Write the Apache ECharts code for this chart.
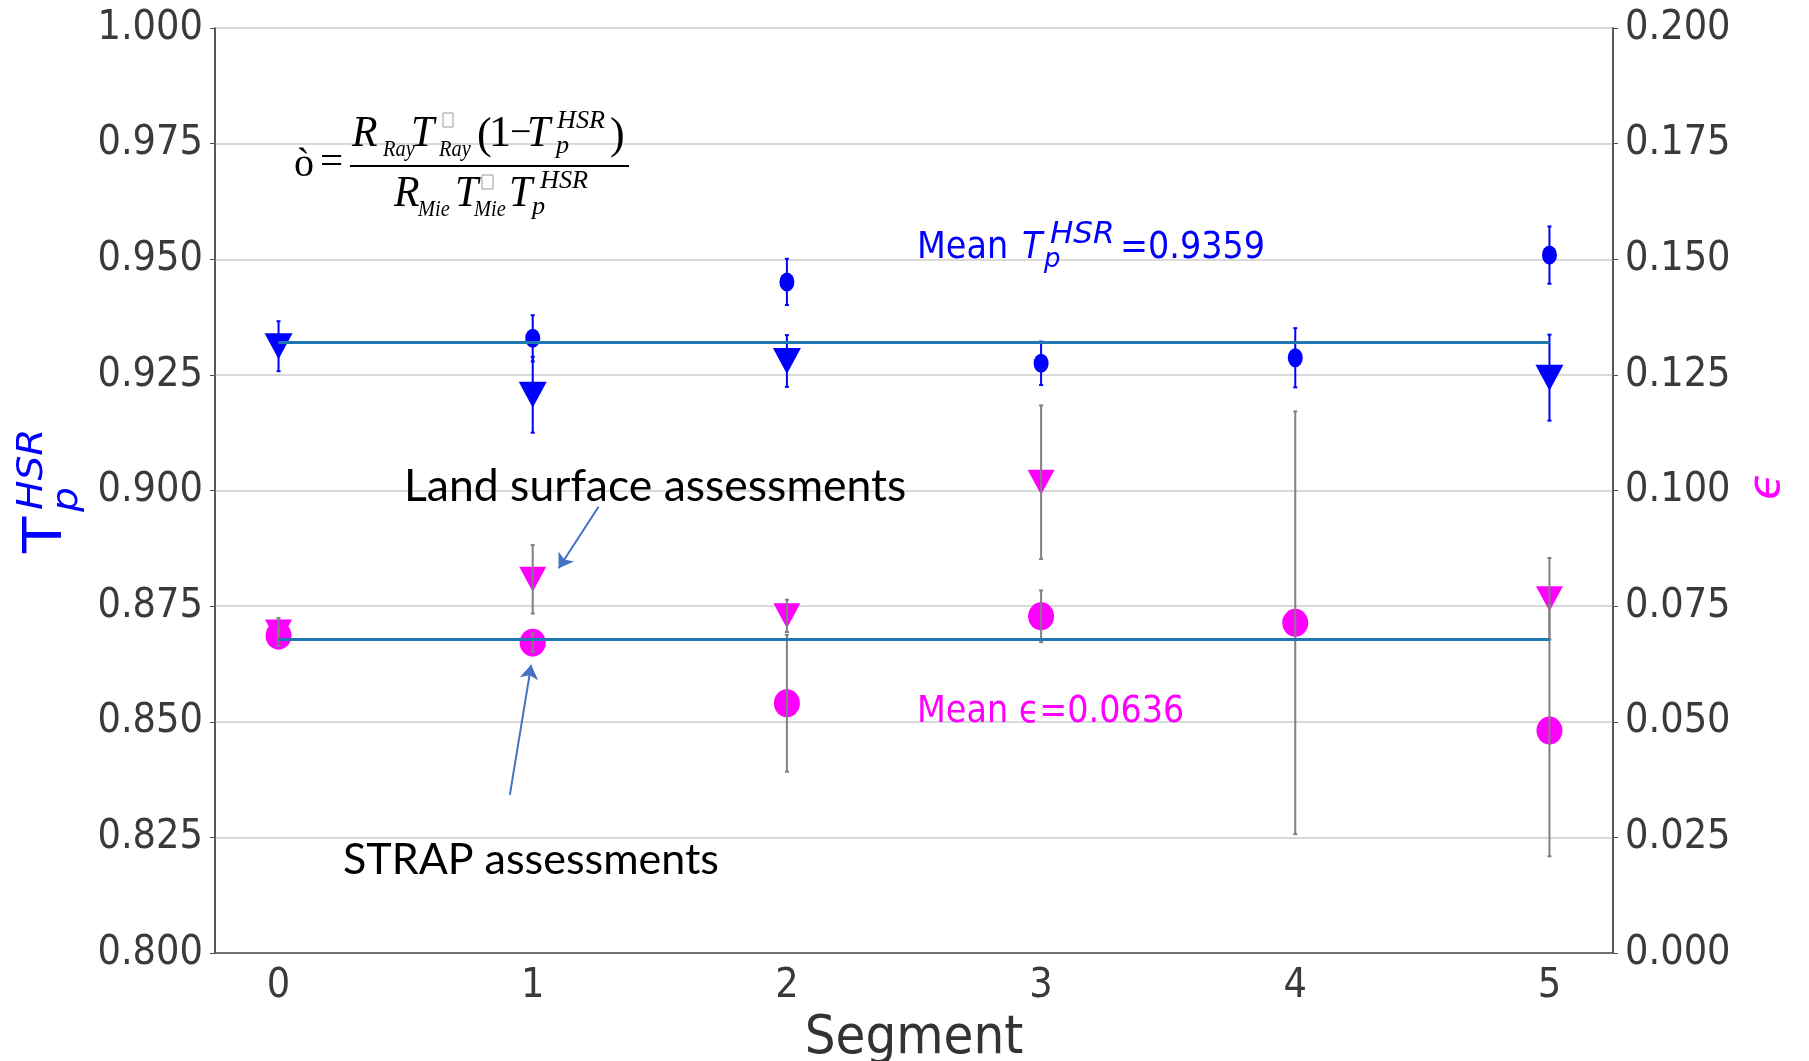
<!DOCTYPE html>
<html>
<head>
<meta charset="utf-8">
<script src="https://cdn.jsdelivr.net/npm/echarts@6/dist/echarts.min.js"></script>
<style>
  html, body { margin: 0; padding: 0; background: #fff; }
  #chart { width: 1809px; height: 1061px; }
</style>
</head>
<body>
<div id="chart"></div>
<script>
// segment positions on the x axis
const segments = [0, 1, 2, 3, 4, 5];

// T_p^HSR (left axis) - circles = STRAP, triangles = land surface
const tCircle = [null, 0.9329, 0.9451, 0.9275, 0.9287, 0.9509];
const tCircleErr = [null, 0.0050, 0.0050, 0.0047, 0.0064, 0.0062];
const tTri = [0.9312, 0.9207, 0.9280, null, null, 0.9244];
const tTriErr = [0.0054, 0.0082, 0.0056, null, null, 0.0093];

// epsilon (right axis)
const eCircle = [0.0686, 0.0671, 0.0540, 0.0728, 0.0714, 0.0481];
const eCircleErr = [0.0010, 0.0020, 0.0148, 0.0056, 0.0457, 0.0272];
const eTri = [0.0694, 0.0808, 0.0729, 0.1018, null, 0.0766];
const eTriErr = [0.0030, 0.0074, 0.0035, 0.0166, null, 0.0088];

// horizontal mean lines as drawn
const meanT = 0.932;
const meanEps = 0.0678;

// annotation arrows, in (segment, epsilon) coordinates
const arrowLand = [[1.259, 0.0965], [1.102, 0.0832]];
const arrowStrap = [[0.910, 0.0342], [0.994, 0.0623]];

const BLUE = '#0000ff';
const MAGENTA = '#ff00ff';
const LABEL_FONT = "'DejaVu Sans Condensed', 'Liberation Sans Narrow', 'DejaVu Sans', sans-serif";

const chart = echarts.init(document.getElementById('chart'));

const pts = (ys) => segments.map((x, i) => ys[i] == null ? null : [x, ys[i]]).filter(Boolean);
const errPts = (ys, es) => segments.map((x, i) => ys[i] == null ? null : [x, ys[i], es[i]]).filter(Boolean);

function errorSeries(data, yIdx, color) {
  return {
    type: 'custom',
    yAxisIndex: yIdx,
    z: 5,
    silent: true,
    data: data,
    renderItem: function (params, api) {
      const x = api.value(0), y = api.value(1), e = api.value(2);
      const hi = api.coord([x, y + e]);
      const lo = api.coord([x, y - e]);
      const st = { stroke: color, lineWidth: 2 };
      return {
        type: 'group',
        children: [
          { type: 'line', shape: { x1: hi[0], y1: hi[1], x2: lo[0], y2: lo[1] }, style: st },
          { type: 'line', shape: { x1: hi[0] - 2, y1: hi[1], x2: hi[0] + 2, y2: hi[1] }, style: st },
          { type: 'line', shape: { x1: lo[0] - 2, y1: lo[1], x2: lo[0] + 2, y2: lo[1] }, style: st }
        ]
      };
    }
  };
}

// text helper for the graphic annotations
function txt(x, y, s, size, o) {
  o = o || {};
  return {
    type: 'text', x: x, y: y, z: 100,
    rotation: o.rot || 0,
    scaleX: o.sx || 1,
    style: {
      text: s,
      fontSize: size,
      fontFamily: o.family || 'DejaVu Sans',
      fontStyle: o.italic ? 'italic' : 'normal',
      fill: o.color || '#000',
      align: 'left',
      verticalAlign: 'middle'
    }
  };
}

const SERIF = "'Liberation Serif', 'Times New Roman', serif";
const big = { family: SERIF, italic: true, sx: 0.95 };
const sub = { family: SERIF, italic: true, sx: 0.85 };
const sup = { family: SERIF, italic: true, sx: 1.05 };
const up = { family: SERIF };

const formula = [
  txt(294, 165, 'ò', 40, up),
  txt(320, 163, '=', 41, up),
  { type: 'rect', shape: { x: 350, y: 165, width: 279, height: 2 }, style: { fill: '#000' }, z: 100 },
  // numerator
  txt(352, 134, 'R', 44, big),
  txt(383, 150, 'Ray', 24, sub),
  txt(411, 134, 'T', 44, big),
  { type: 'rect', shape: { x: 443, y: 113, width: 10, height: 14 }, style: { fill: 'none', stroke: '#999', lineWidth: 1 }, z: 100 },
  txt(439, 150, 'Ray', 24, sub),
  txt(477, 136, '(', 44, up),
  txt(489, 134, '1', 44, up),
  txt(510, 134, '−', 38, up),
  txt(527, 134, 'T', 44, big),
  txt(557, 121, 'HSR', 25, sup),
  txt(556, 146, 'p', 25, sup),
  txt(610, 136, ')', 44, up),
  // denominator
  txt(394, 194, 'R', 44, big),
  txt(418, 210, 'Mie', 24, sub),
  txt(455, 194, 'T', 44, big),
  { type: 'rect', shape: { x: 482, y: 175, width: 11, height: 14 }, style: { fill: 'none', stroke: '#999', lineWidth: 1 }, z: 100 },
  txt(474, 210, 'Mie', 24, sub),
  txt(509, 194, 'T', 44, big),
  txt(540, 181, 'HSR', 25, sup),
  txt(532, 207, 'p', 25, sup)
];

const notes = [
  txt(917, 248, 'Mean', 38, { color: BLUE, sx: 0.88 }),
  txt(1022, 248, 'T', 38, { color: BLUE, italic: true, sx: 0.88 }),
  txt(1050, 235, 'HSR', 31, { color: BLUE, italic: true }),
  txt(1044, 260, 'p', 26, { color: BLUE, italic: true }),
  txt(1120, 248, '=0.9359', 38, { color: BLUE, sx: 0.88 }),
  txt(917, 712, 'Mean ϵ=0.0636', 38, { color: MAGENTA, sx: 0.88 }),
  txt(404, 487, 'Land surface assessments', 44.5, { family: 'Lato' }),
  txt(343, 860, 'STRAP assessments', 43, { family: 'Lato' }),
  // left axis title, rotated
  txt(47.5, 553, 'T', 53, { color: BLUE, rot: Math.PI / 2, sx: 1.12 }),
  txt(33, 510, 'HSR', 35, { color: BLUE, italic: true, rot: Math.PI / 2, sx: 1.12 }),
  txt(68, 512, 'p', 35, { color: BLUE, italic: true, rot: Math.PI / 2, sx: 1.12 }),
  // right axis title
  txt(1767, 500, 'ϵ', 45, { color: MAGENTA, italic: true, rot: Math.PI / 2 })
];

const option = {
  backgroundColor: '#fff',
  animation: false,
  grid: {
    left: 215, right: 196, top: 28, bottom: 108,
    containLabel: false,
    outerBoundsMode: 'none',
    show: true, borderColor: '#4d4d4d', borderWidth: 1.5
  },
  xAxis: {
    type: 'value',
    min: -0.25, max: 5.25,
    name: 'Segment',
    nameLocation: 'middle',
    nameGap: 48,
    nameTextStyle: { fontFamily: LABEL_FONT, fontSize: 54, color: '#333' },
    axisLine: { show: true, onZero: false, lineStyle: { color: '#4d4d4d', width: 1.5 } },
    axisTick: { show: false },
    splitLine: { show: false },
    axisLabel: {
      customValues: segments,
      fontFamily: LABEL_FONT, fontSize: 41, color: '#3a3a3a', margin: 13
    }
  },
  yAxis: [
    {
      type: 'value', min: 0.8, max: 1.0, interval: 0.025,
      axisLine: { show: true, onZero: false, lineStyle: { color: '#4d4d4d', width: 1.5 } },
      axisTick: { show: true, length: 5, lineStyle: { color: '#4d4d4d' } },
      splitLine: { show: true, lineStyle: { color: '#d9d9d9', width: 2 } },
      axisLabel: {
        fontFamily: LABEL_FONT, fontSize: 41, color: '#3a3a3a', margin: 12,
        formatter: (v) => v.toFixed(3)
      }
    },
    {
      type: 'value', min: 0, max: 0.2, interval: 0.025, position: 'right',
      axisLine: { show: true, onZero: false, lineStyle: { color: '#4d4d4d', width: 1.5 } },
      axisTick: { show: true, length: 5, lineStyle: { color: '#4d4d4d' } },
      splitLine: { show: false },
      axisLabel: {
        fontFamily: LABEL_FONT, fontSize: 41, color: '#3a3a3a', margin: 12,
        formatter: (v) => v.toFixed(3)
      }
    }
  ],
  graphic: formula.concat(notes),
  series: [
    {
      name: 'T land', type: 'scatter', yAxisIndex: 0, z: 2,
      symbol: 'triangle', symbolRotate: 180, symbolSize: [28, 26],
      itemStyle: { color: BLUE, opacity: 1 }, data: pts(tTri)
    },
    {
      name: 'T strap', type: 'scatter', yAxisIndex: 0, z: 3,
      symbol: 'circle', symbolSize: [15, 19],
      itemStyle: { color: BLUE, opacity: 1 }, data: pts(tCircle)
    },
    {
      name: 'eps land', type: 'scatter', yAxisIndex: 1, z: 2,
      symbol: 'triangle', symbolRotate: 180, symbolSize: [27, 25],
      itemStyle: { color: MAGENTA, opacity: 1 }, data: pts(eTri)
    },
    {
      name: 'eps strap', type: 'scatter', yAxisIndex: 1, z: 3,
      symbol: 'circle', symbolSize: [26, 28],
      itemStyle: { color: MAGENTA, opacity: 1 }, data: pts(eCircle)
    },
    errorSeries(errPts(tTri, tTriErr), 0, BLUE),
    errorSeries(errPts(tCircle, tCircleErr), 0, BLUE),
    errorSeries(errPts(eTri, eTriErr), 1, '#808080'),
    errorSeries(errPts(eCircle, eCircleErr), 1, '#808080'),
    {
      name: 'mean T', type: 'line', yAxisIndex: 0, z: 6,
      showSymbol: false, silent: true,
      lineStyle: { color: '#1f77b4', width: 3 },
      data: [[segments[0], meanT], [segments[5], meanT]]
    },
    {
      name: 'mean eps', type: 'line', yAxisIndex: 1, z: 6,
      showSymbol: false, silent: true,
      lineStyle: { color: '#1f77b4', width: 3 },
      data: [[segments[0], meanEps], [segments[5], meanEps]]
    },
    {
      name: 'arrows', type: 'lines', coordinateSystem: 'cartesian2d',
      xAxisIndex: 0, yAxisIndex: 1, z: 7, silent: true,
      symbol: ['none', 'arrow'], symbolSize: 14,
      lineStyle: { color: '#4472c4', width: 2, opacity: 1 },
      data: [{ coords: arrowLand }, { coords: arrowStrap }]
    }
  ]
};

chart.setOption(option);
</script>
</body>
</html>
